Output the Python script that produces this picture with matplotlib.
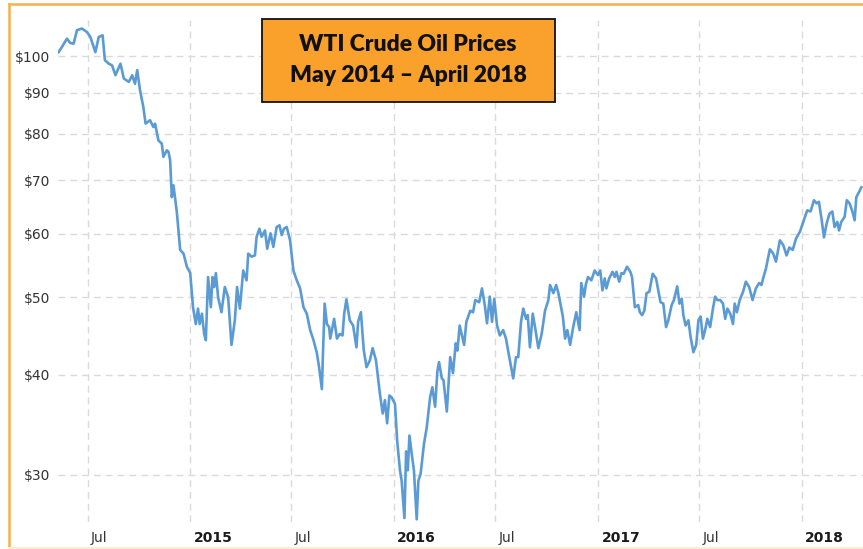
"""WTI crude oil prices, May 2014 - April 2018 (log scale, weekly-ish closes).

跑法：
    python plot.py   ->  out.png (863x549)
"""

from __future__ import annotations

import matplotlib

matplotlib.use("Agg")
import matplotlib.pyplot as plt  # noqa: E402
import pandas as pd  # noqa: E402
from matplotlib.lines import Line2D  # noqa: E402
from matplotlib.patches import Rectangle  # noqa: E402
from matplotlib.ticker import NullLocator  # noqa: E402
from matplotlib.transforms import ScaledTranslation  # noqa: E402

W, H, DPI = 863, 549, 100

# ---- data ($/bbl) ----
DATES_2014 = [
    "2014-05-10", "2014-05-16", "2014-05-25", "2014-05-31", "2014-06-06", "2014-06-12",
    "2014-06-21", "2014-06-30", "2014-07-06", "2014-07-15", "2014-07-21", "2014-07-28",
    "2014-08-01", "2014-08-08", "2014-08-14", "2014-08-20", "2014-08-29", "2014-09-04",
    "2014-09-13", "2014-09-19", "2014-09-24", "2014-09-28", "2014-10-03", "2014-10-09",
    "2014-10-13", "2014-10-21", "2014-10-27", "2014-10-30", "2014-11-05", "2014-11-11",
    "2014-11-14", "2014-11-20", "2014-11-23", "2014-11-26", "2014-11-29", "2014-12-02",
    "2014-12-08", "2014-12-14", "2014-12-20", "2014-12-26",
]
PRICES_2014 = [
    101.2, 102.7, 105.2, 103.9, 103.7, 107.8,
    108.3, 107.2, 105.7, 101.2, 105.7, 106.2,
    98.9, 97.9, 97.4, 94.7, 97.9, 93.8,
    92.9, 94.7, 92.4, 96.1, 90.7, 86.4,
    82.4, 83.2, 81.6, 82.4, 78.5, 77.8,
    74.9, 76.3, 76.0, 74.2, 66.7, 69.0,
    63.9, 57.3, 56.7, 54.6,
]

DATES_2015 = [
    "2015-01-01", "2015-01-06", "2015-01-11", "2015-01-15", "2015-01-18", "2015-01-22",
    "2015-01-26", "2015-01-29", "2015-02-02", "2015-02-07", "2015-02-10", "2015-02-13",
    "2015-02-16", "2015-02-20", "2015-02-26", "2015-03-04", "2015-03-10", "2015-03-16",
    "2015-03-22", "2015-03-26", "2015-03-31", "2015-04-06", "2015-04-12", "2015-04-15",
    "2015-04-21", "2015-04-27", "2015-04-30", "2015-05-05", "2015-05-09", "2015-05-15",
    "2015-05-19", "2015-05-25", "2015-05-30", "2015-06-05", "2015-06-10", "2015-06-14",
    "2015-06-18", "2015-06-23", "2015-06-29", "2015-07-05", "2015-07-11", "2015-07-17",
    "2015-07-23", "2015-07-29", "2015-08-04", "2015-08-10", "2015-08-16", "2015-08-20",
    "2015-08-25", "2015-08-27", "2015-08-30", "2015-09-03", "2015-09-07", "2015-09-09",
    "2015-09-13", "2015-09-16", "2015-09-21", "2015-09-26", "2015-10-01", "2015-10-04",
    "2015-10-08", "2015-10-14", "2015-10-20", "2015-10-26", "2015-10-29", "2015-11-03",
    "2015-11-08", "2015-11-13", "2015-11-19", "2015-11-24", "2015-11-30", "2015-12-07",
    "2015-12-12", "2015-12-16", "2015-12-20", "2015-12-24", "2015-12-28",
]
PRICES_2015 = [
    53.6, 48.6, 46.3, 48.4, 46.3, 47.7,
    45.0, 44.2, 53.0, 48.6, 53.0, 51.5,
    53.6, 50.0, 47.9, 51.5, 50.0, 43.6,
    46.8, 51.5, 48.4, 54.0, 52.5, 56.7,
    56.2, 56.4, 59.5, 60.9, 59.5, 60.6,
    57.5, 60.1, 57.8, 61.2, 61.5, 59.8,
    60.9, 61.2, 58.9, 54.0, 52.5, 51.3,
    48.6, 47.7, 45.5, 44.2, 42.6, 40.9,
    38.4, 42.6, 49.1, 46.3, 45.9, 44.4,
    45.9, 47.0, 44.4, 45.0, 44.8, 47.7,
    49.7, 46.8, 46.1, 43.3, 46.6, 47.9,
    43.0, 40.9, 41.7, 43.2, 41.7, 37.9,
    35.8, 37.2, 34.8, 37.7, 37.5,
]

DATES_2016 = [
    "2016-01-03", "2016-01-07", "2016-01-12", "2016-01-15", "2016-01-20", "2016-01-23",
    "2016-01-26", "2016-01-29", "2016-02-02", "2016-02-06", "2016-02-11", "2016-02-14",
    "2016-02-18", "2016-02-24", "2016-02-29", "2016-03-06", "2016-03-10", "2016-03-15",
    "2016-03-19", "2016-03-22", "2016-03-27", "2016-03-30", "2016-04-05", "2016-04-11",
    "2016-04-16", "2016-04-21", "2016-04-24", "2016-04-28", "2016-05-06", "2016-05-10",
    "2016-05-17", "2016-05-22", "2016-05-26", "2016-06-02", "2016-06-07", "2016-06-12",
    "2016-06-16", "2016-06-21", "2016-06-25", "2016-06-29", "2016-07-04", "2016-07-09",
    "2016-07-15", "2016-07-20", "2016-07-27", "2016-08-02", "2016-08-07", "2016-08-11",
    "2016-08-16", "2016-08-20", "2016-08-25", "2016-08-28", "2016-09-01", "2016-09-06",
    "2016-09-11", "2016-09-16", "2016-09-22", "2016-09-28", "2016-10-04", "2016-10-07",
    "2016-10-13", "2016-10-18", "2016-10-22", "2016-10-30", "2016-11-03", "2016-11-07",
    "2016-11-12", "2016-11-17", "2016-11-23", "2016-11-29", "2016-12-02", "2016-12-07",
    "2016-12-10", "2016-12-14", "2016-12-20", "2016-12-26",
]
PRICES_2016 = [
    36.8, 33.1, 30.4, 29.5, 26.5, 32.1,
    30.4, 33.6, 31.9, 30.4, 26.4, 29.5,
    30.1, 32.8, 34.4, 37.5, 38.6, 36.5,
    40.4, 41.5, 39.6, 39.4, 36.0, 42.1,
    40.2, 43.8, 42.9, 46.1, 43.6, 46.6,
    48.1, 47.9, 49.6, 49.3, 51.3, 48.9,
    46.4, 50.1, 46.6, 49.8, 46.1, 44.8,
    45.5, 44.4, 41.7, 39.6, 42.1, 42.1,
    46.6, 48.4, 47.0, 47.5, 43.3, 47.7,
    45.5, 43.2, 45.0, 48.1, 49.6, 51.8,
    50.6, 51.8, 50.6, 47.3, 44.4, 45.5,
    43.6, 45.7, 47.9, 45.5, 52.1, 50.1,
    51.8, 53.0, 52.5, 54.0,
]

DATES_2017 = [
    "2017-01-01", "2017-01-05", "2017-01-09", "2017-01-13", "2017-01-16", "2017-01-21",
    "2017-01-27", "2017-01-31", "2017-02-03", "2017-02-08", "2017-02-12", "2017-02-16",
    "2017-02-22", "2017-02-28", "2017-03-03", "2017-03-08", "2017-03-14", "2017-03-17",
    "2017-03-21", "2017-03-25", "2017-03-29", "2017-04-03", "2017-04-09", "2017-04-15",
    "2017-04-19", "2017-04-23", "2017-04-28", "2017-05-03", "2017-05-07", "2017-05-13",
    "2017-05-17", "2017-05-23", "2017-05-27", "2017-05-31", "2017-06-03", "2017-06-07",
    "2017-06-12", "2017-06-16", "2017-06-21", "2017-06-26", "2017-06-30", "2017-07-04",
    "2017-07-08", "2017-07-12", "2017-07-16", "2017-07-21", "2017-07-26", "2017-07-30",
    "2017-08-03", "2017-08-08", "2017-08-13", "2017-08-17", "2017-08-21", "2017-08-26",
    "2017-08-31", "2017-09-03", "2017-09-07", "2017-09-12", "2017-09-18", "2017-09-23",
    "2017-09-29", "2017-10-05", "2017-10-11", "2017-10-17", "2017-10-21", "2017-10-24",
    "2017-10-29", "2017-11-05", "2017-11-11", "2017-11-16", "2017-11-23", "2017-11-29",
    "2017-12-05", "2017-12-10", "2017-12-16", "2017-12-22", "2017-12-29",
]
PRICES_2017 = [
    53.3, 54.0, 51.0, 52.8, 51.3, 52.8,
    53.8, 53.0, 53.8, 52.3, 53.6, 53.5,
    54.6, 53.8, 53.0, 48.6, 48.9, 47.9,
    47.5, 48.1, 50.6, 50.8, 53.5, 52.8,
    51.0, 49.3, 49.1, 45.9, 46.8, 48.9,
    49.6, 51.6, 49.1, 49.8, 47.5, 46.1,
    46.8, 44.6, 42.7, 43.6, 46.8, 47.3,
    44.4, 45.5, 47.0, 45.9, 48.4, 50.1,
    49.6, 49.6, 49.1, 47.0, 48.4, 47.7,
    46.3, 49.1, 47.9, 49.6, 50.8, 52.3,
    51.5, 49.6, 51.3, 52.1, 51.8, 52.8,
    54.3, 57.4, 56.7, 55.4, 58.9, 58.1,
    56.4, 57.7, 57.3, 59.2, 60.4,
]

DATES_2018 = [
    "2018-01-04", "2018-01-11", "2018-01-17", "2018-01-23", "2018-01-28", "2018-02-01",
    "2018-02-06", "2018-02-10", "2018-02-15", "2018-02-20", "2018-02-25", "2018-03-01",
    "2018-03-06", "2018-03-09", "2018-03-13", "2018-03-19", "2018-03-23", "2018-03-28",
    "2018-04-02", "2018-04-06", "2018-04-09", "2018-04-14", "2018-04-18",
]
PRICES_2018 = [
    62.1, 64.2, 64.0, 66.1, 65.5, 65.8,
    62.4, 59.4, 61.9, 63.6, 64.0, 61.2,
    62.1, 60.6, 62.1, 63.0, 66.1, 65.5,
    64.0, 62.4, 66.7, 67.7, 68.6,
]

Y_TICKS = [30, 40, 50, 60, 70, 80, 90, 100]
Y_LABELS = ["$30", "$40", "$50", "$60", "$70", "$80", "$90", "$100"]
X_TICKS = ["2014-07-01", "2015-01-01", "2015-07-01", "2016-01-01",
           "2016-07-01", "2017-01-01", "2017-07-01", "2018-01-01"]
X_LABELS = ["Jul", "2015", "Jul", "2016", "Jul", "2017", "Jul", "2018"]
TITLE_LINES = ["WTI Crude Oil Prices", "May 2014 \u2013 April 2018"]

LINE_COLOR = "#5B9BD5"
GRID_COLOR = "#DADADA"
BORDER_COLOR = "#F8B04A"
BOX_COLOR = "#F9A12B"


def px(x: float, y: float) -> tuple[float, float]:
    """像素坐标 (左上原点) -> figure fraction."""
    return x / W, 1 - y / H


def main() -> None:
    dates = pd.to_datetime(DATES_2014 + DATES_2015 + DATES_2016 + DATES_2017 + DATES_2018)
    prices = PRICES_2014 + PRICES_2015 + PRICES_2016 + PRICES_2017 + PRICES_2018

    fig = plt.figure(figsize=(W / DPI, H / DPI), dpi=DPI)
    fig.patch.set_facecolor("white")
    x0, y0 = px(58, 522)
    ax = fig.add_axes([x0, y0, 1 - x0, (522 - 20) / H])

    ax.plot(dates, prices, color=LINE_COLOR, lw=1.9, solid_joinstyle="round", zorder=3)

    ax.set_yscale("log")
    ax.set_ylim(26.2, 111)
    ax.set_xlim(pd.Timestamp("2014-05-09"), pd.Timestamp("2018-04-21"))

    ax.set_yticks(Y_TICKS, Y_LABELS)
    ax.yaxis.set_minor_locator(NullLocator())
    ax.set_xticks(pd.to_datetime(X_TICKS), X_LABELS)
    ax.xaxis.set_minor_locator(NullLocator())

    ax.tick_params(axis="both", length=0, labelsize=10, labelcolor="#333333")
    ax.tick_params(axis="y", pad=5.8)
    ax.tick_params(axis="x", pad=6.4)
    shift = ScaledTranslation(3.5 / DPI, 0, fig.dpi_scale_trans)
    for lbl in ax.get_xticklabels():
        lbl.set_horizontalalignment("left")
        lbl.set_transform(lbl.get_transform() + shift)
        if lbl.get_text().isdigit():
            lbl.set_fontweight("bold")
            lbl.set_color("#1a1a1a")

    ax.grid(True, color=GRID_COLOR, lw=1.0, linestyle=(0, (5, 3.5)))
    ax.set_axisbelow(True)
    for sp in ax.spines.values():
        sp.set_visible(False)

    # 外框：左 + 上 橙色，底部很淡
    fig.add_artist(Line2D([9 / W, 9 / W], [0, px(0, 4)[1]], transform=fig.transFigure,
                          color=BORDER_COLOR, lw=1.8))
    fig.add_artist(Line2D([9 / W, 1], [px(0, 4)[1]] * 2, transform=fig.transFigure,
                          color=BORDER_COLOR, lw=1.8))
    fig.add_artist(Line2D([9 / W, 1], [px(0, 547.5)[1]] * 2, transform=fig.transFigure,
                          color="#FDEBD2", lw=1.5))

    # 标题框
    bx, by = px(262, 102)
    fig.add_artist(Rectangle((bx, by), (555 - 262) / W, (102 - 19) / H,
                             transform=fig.transFigure, facecolor=BOX_COLOR,
                             edgecolor="#111111", lw=1.3, zorder=5))
    for line, base in zip(TITLE_LINES, (51, 82)):
        fig.text(408 / W, px(0, base)[1], line, ha="center", va="baseline",
                 fontsize=16.5, fontweight="heavy", family=["Lato", "DejaVu Sans"],
                 color="#111111", zorder=6)

    fig.savefig("out.png", dpi=DPI)
    plt.close(fig)


if __name__ == "__main__":
    main()
